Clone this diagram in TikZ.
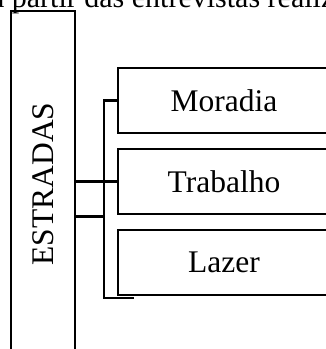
\documentclass[tikz,border=0pt]{standalone}
\usepackage{fontspec}
\setmainfont{Liberation Serif}
\usepackage{tikz}
\usetikzlibrary{positioning}

\begin{document}
\begin{tikzpicture}[x=1pt,y=-1pt,line width=2.2pt,node distance=81pt,on grid,
    caixa/.style={draw,rectangle,inner sep=0pt,minimum width=212pt,minimum height=65pt,font=\fontsize{31.5}{36}\selectfont},
    ligacao/.style={line width=2.2pt}]
    \useasboundingbox (0,0) rectangle (326,349);
    \clip (0,0) rectangle (326,349);
    % texto do paragrafo acima da figura
    \node[anchor=base west,inner sep=0pt,font=\fontsize{30}{34}\selectfont] (fonte) at (-10,7) {a partir das entrevistas realizadas};
    \node[draw,rectangle,inner sep=0pt,minimum width=64pt,minimum height=346pt,font=\fontsize{31.5}{36}\selectfont] (estradas) at (43,184) {\rotatebox{90}{ESTRADAS}};
    \node[caixa] (moradia) at (224,100.5) {Moradia};
    \node[caixa] (trabalho) [below=of moradia] {Trabalho};
    \node[caixa] (lazer) [below=of trabalho] {Lazer};
    \coordinate[left=13pt of moradia.west] (jt);
    \coordinate (jm) at ([yshift=-35pt]jt |- trabalho.west);
    \coordinate (jb) at ([xshift=17pt,yshift=-1.5pt]lazer.south west);
    \draw[ligacao] (moradia.west) -- (jt) |- (jb);
    \draw[ligacao] (estradas.east |- trabalho.west) -- (trabalho.west);
    \draw[ligacao] (estradas.east |- jm) -- (jm);
  \end{tikzpicture}
\end{document}
